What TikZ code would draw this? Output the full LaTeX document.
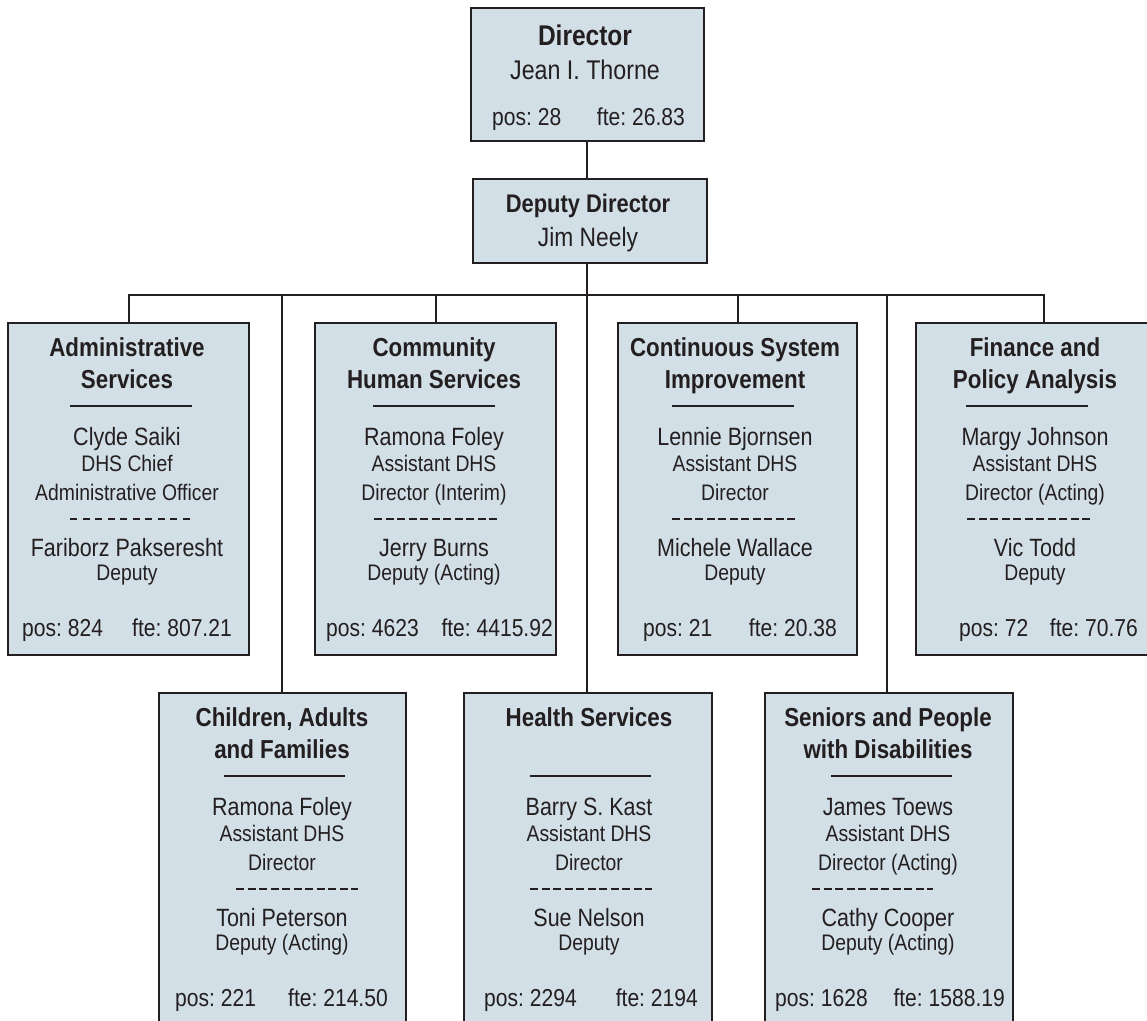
\documentclass[tikz,border=0pt]{standalone}
\usepackage{fontspec}
\setmainfont{Liberation Sans}[FakeStretch=0.86]
\frenchspacing
\definecolor{boxfill}{RGB}{211,223,230}
\definecolor{linec}{RGB}{35,31,32}
\definecolor{txtc}{RGB}{35,31,32}
\tikzset{
  unitbox/.style={draw=linec, line width=2pt, fill=boxfill, inner sep=0pt, anchor=north west},
  ttl/.style={anchor=base, inner sep=0pt, text=txtc, font=\fontsize{26}{30}\selectfont\bfseries},
  nm/.style={anchor=base, inner sep=0pt, text=txtc, font=\fontsize{25}{28}\selectfont},
  rl/.style={anchor=base, inner sep=0pt, text=txtc, font=\fontsize{22.5}{26}\selectfont},
  ps/.style={inner sep=0pt, text=txtc, font=\fontsize{24.5}{28}\selectfont},
  conn/.style={draw=linec, line width=2pt},
  rulel/.style={draw=linec, line width=1.8pt},
  dashA/.style={rulel, dash pattern=on 7pt off 5.5pt},
  dashB/.style={rulel, dash pattern=on 8pt off 3.5pt},
}
% box: name, x1, x2, top, bottom
\newcommand\uBox[5]{\node[unitbox, minimum width={#3pt-#2pt}, minimum height={#5pt-#4pt}] (#1) at (#2,#4) {};}
% titles: prefix, cx, top, title1, title2
\newcommand\uTitle[5]{%
  \node[ttl] (#1-t1) at (#2,#3+34) {#4};
  \node[ttl] (#1-t2) at (#2,#3+66) {#5};}
% head: prefix, cx, top, name, role1, role2
\newcommand\uHead[6]{%
  \node[nm] (#1-n) at (#2,#3+123) {#4};
  \node[rl] (#1-r1) at (#2,#3+149) {#5};
  \node[rl] (#1-r2) at (#2,#3+178) {#6};}
% deputy: prefix, cx, top, name, role
\newcommand\uDep[5]{%
  \node[nm] (#1-dn) at (#2,#3+234) {#4};
  \node[rl] (#1-dr) at (#2,#3+258) {#5};}
% pos line: prefix, top, xl, xr, pos, fte
\newcommand\uPos[6]{%
  \node[ps, anchor=base west] (#1-pos) at (#3,#2+314) {#5};
  \node[ps, anchor=base east] (#1-fte) at (#4,#2+314) {#6};}
% rules: top, r1, r2, d1, d2, dash style
\newcommand\uRules[6]{%
  \draw[rulel] (#2,#1+84) -- (#3,#1+84);
  \draw[#6] (#4,#1+197) -- (#5,#1+197);}
\begin{document}
\begin{tikzpicture}[x=1pt, y=-1pt]
\useasboundingbox (0,0) rectangle (1147,1020);
\clip (0,0) rectangle (1147,1020);

% connectors (drawn first, boxes cover their ends)
\coordinate (bus) at (587,295);
\coordinate (dirb) at (587,140);
\coordinate (depa) at (587,178);
\coordinate (depb) at (587,262);
\coordinate (cafb) at (282,295);
\coordinate (spdb) at (887,295);

% boxes
\node[unitbox, minimum width=233pt, minimum height=133pt] (dir) at (470,7) {};
\node[unitbox, minimum width=234pt, minimum height=84pt] (dep) at (472,178) {};
\uBox{adm}{7}{248}{322}{654}
\uBox{com}{314}{555}{322}{654}
\uBox{csi}{617}{856}{322}{654}
\uBox{fin}{915}{1171}{322}{654}
\uBox{caf}{158}{405}{692}{1045}
\uBox{hea}{463}{711}{692}{1045}
\uBox{spd}{764}{1012}{692}{1045}

\draw[conn] (bus |- dir.south) -- (bus |- dep.north);
\draw[conn] (bus |- dep.south) -- (bus);
\draw[conn] (adm.north) -- (adm.north |- bus) -- (fin.north |- bus) -- (fin.north);
\draw[conn] (com.north |- bus) -- (com.north);
\draw[conn] (csi.north |- bus) -- (csi.north);
\draw[conn] (cafb) -- (cafb |- caf.north);
\draw[conn] (bus) -- (bus |- hea.north);
\draw[conn] (spdb) -- (spdb |- spd.north);

% Director
\node[anchor=base, inner sep=0pt, text=txtc, font=\fontsize{28.5}{32}\selectfont\bfseries] (dir-t) at (585,45) {Director};
\node[anchor=base, inner sep=0pt, text=txtc, font=\fontsize{27}{30}\selectfont] (dir-n) at (585,79) {Jean I. Thorne};
\node[ps, anchor=base west] (dir-pos) at (492,125) {pos: 28};
\node[ps, anchor=base east] (dir-fte) at (685,125) {fte: 26.83};
% Deputy
\node[anchor=base, inner sep=0pt, text=txtc, font=\fontsize{25.5}{30}\selectfont\bfseries] (dep-t) at (588,212) {Deputy Director};
\node[anchor=base, inner sep=0pt, text=txtc, font=\fontsize{26.5}{30}\selectfont] (dep-n) at (588,246) {Jim Neely};

% Administrative Services
\uTitle{adm}{127}{322}{Administrative}{Services}
\uRules{322}{70}{192}{70}{192}{dashA}
\uHead{adm}{127}{322}{Clyde Saiki}{DHS Chief}{Administrative Officer}
\uDep{adm}{127}{322}{Fariborz Pakseresht}{Deputy}
\uPos{adm}{322}{22}{232}{pos: 824}{fte: 807.21}

% Community Human Services
\uTitle{com}{434}{322}{Community}{Human Services}
\uRules{322}{373}{495}{374}{497}{dashB}
\uHead{com}{434}{322}{Ramona Foley}{Assistant DHS}{Director (Interim)}
\uDep{com}{434}{322}{Jerry Burns}{Deputy (Acting)}
\uPos{com}{322}{326}{553}{pos: 4623}{fte: 4415.92}

% Continuous System Improvement
\uTitle{csi}{735}{322}{Continuous System}{Improvement}
\uRules{322}{672}{794}{672}{795}{dashB}
\uHead{csi}{735}{322}{Lennie Bjornsen}{Assistant DHS}{Director}
\uDep{csi}{735}{322}{Michele Wallace}{Deputy}
\uPos{csi}{322}{643}{837}{pos: 21}{fte: 20.38}

% Finance and Policy Analysis
\uTitle{fin}{1035}{322}{Finance and}{Policy Analysis}
\uRules{322}{966}{1088}{967}{1090}{dashB}
\uHead{fin}{1035}{322}{Margy Johnson}{Assistant DHS}{Director (Acting)}
\uDep{fin}{1035}{322}{Vic Todd}{Deputy}
\uPos{fin}{322}{959}{1138}{pos: 72}{fte: 70.76}

% Children, Adults and Families
\uTitle{caf}{282}{692}{Children, Adults}{and Families}
\uRules{692}{224}{345}{236}{358}{dashB}
\uHead{caf}{282}{692}{Ramona Foley}{Assistant DHS}{Director}
\uDep{caf}{282}{692}{Toni Peterson}{Deputy (Acting)}
\uPos{caf}{692}{175}{388}{pos: 221}{fte: 214.50}

% Health Services
\node[ttl] (hea-t1) at (589,692+34) {Health Services};
\uRules{692}{530}{651}{530}{652}{dashB}
\uHead{hea}{589}{692}{Barry S. Kast}{Assistant DHS}{Director}
\uDep{hea}{589}{692}{Sue Nelson}{Deputy}
\uPos{hea}{692}{484}{698}{pos: 2294}{fte: 2194}

% Seniors and People with Disabilities
\uTitle{spd}{888}{692}{Seniors and People}{with Disabilities}
\uRules{692}{831}{952}{812}{933}{dashB}
\uHead{spd}{888}{692}{James Toews}{Assistant DHS}{Director (Acting)}
\uDep{spd}{888}{692}{Cathy Cooper}{Deputy (Acting)}
\uPos{spd}{692}{775}{1005}{pos: 1628}{fte: 1588.19}
\end{tikzpicture}
\end{document}
